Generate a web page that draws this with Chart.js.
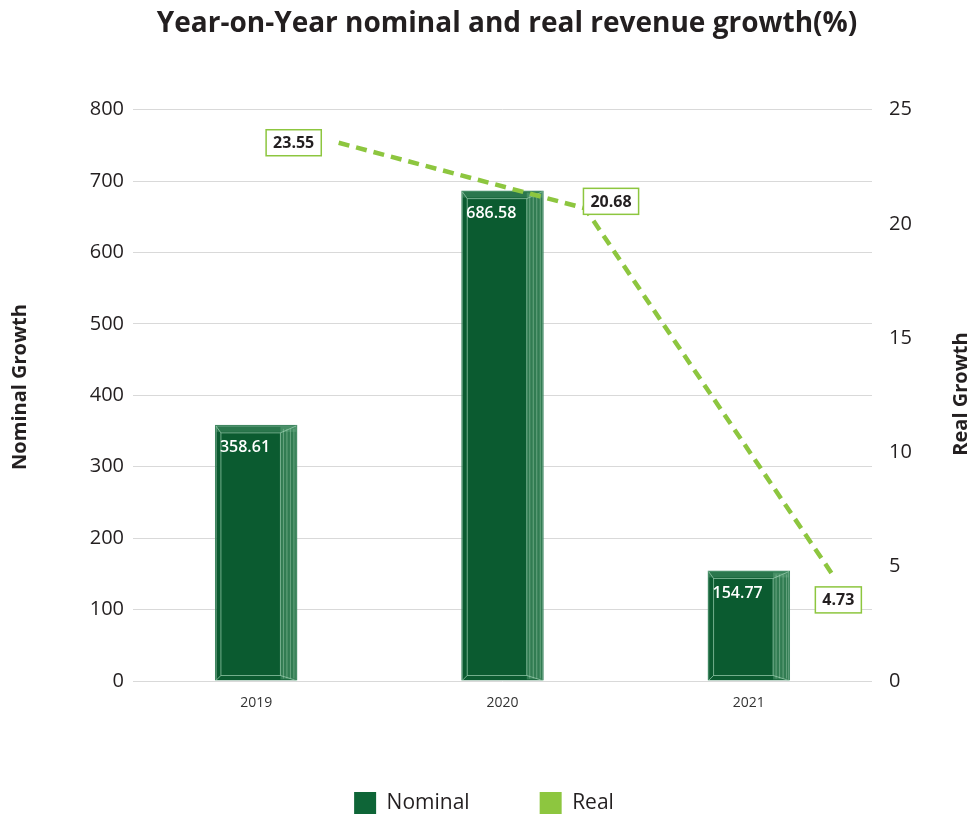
<!DOCTYPE html>
<html>
<head>
<meta charset="utf-8">
<script src="https://cdn.jsdelivr.net/npm/chart.js@4.4.1/dist/chart.umd.min.js"></script>
<style>
  html, body { margin: 0; padding: 0; background: #fff; }
</style>
</head>
<body>
<canvas id="chart" width="972" height="817"></canvas>
<script>
// ====== DATA ======
const years         = ['2019', '2020', '2021'];
const nominalGrowth = [358.61, 686.58, 154.77];
const realGrowth    = [23.55, 20.68, 4.73];

// ====== STYLE ======
const DARK_GREEN  = '#0b5b30';
const LIGHT_GREEN = '#8dc63f';
const TEXT        = '#231f20';
const LINE_SHIFT  = 0.335;                         // line sits right of the bars
const REAL_LABEL_OFFSETS = [[-45, 0], [26, -7], [7, 27]];

Chart.defaults.font.family = '"Open Sans", "Noto Sans", sans-serif';
Chart.defaults.color = TEXT;

// bevelled look on the bars
const barBevel = {
  id: 'barBevel',
  afterDatasetDraw(chart, args) {
    if (args.index !== 0) return;
    const ctx = chart.ctx;
    ctx.save();
    args.meta.data.forEach(bar => {
      const l = bar.x - bar.width / 2, r = bar.x + bar.width / 2;
      const t = bar.y, b = bar.base;
      const il = l + 6, ir = r - 17, it = t + 8, ib = b - 5;
      // right face
      ctx.fillStyle = 'rgba(120,185,145,0.35)';
      ctx.fillRect(ir, t + 2, r - ir - 1, b - t - 3);
      ctx.strokeStyle = 'rgba(170,215,185,0.45)';
      ctx.lineWidth = 1;
      for (let k = 0; k < 4; k++) {
        const xx = ir + 3 + k * 3.5;
        ctx.beginPath(); ctx.moveTo(xx, t + 4); ctx.lineTo(xx, b - 2); ctx.stroke();
      }
      // top face
      ctx.fillStyle = 'rgba(120,185,145,0.3)';
      ctx.fillRect(l + 1, t + 1, r - l - 2, 6);
      // inner frame
      ctx.strokeStyle = 'rgba(160,210,180,0.7)';
      ctx.lineWidth = 1;
      ctx.strokeRect(il, it, ir - il, ib - it);
      ctx.beginPath();
      ctx.moveTo(l + 1, t + 1); ctx.lineTo(il, it);
      ctx.moveTo(r - 1, t + 1); ctx.lineTo(ir, it);
      ctx.moveTo(l + 1, b); ctx.lineTo(il, ib);
      ctx.moveTo(r - 1, b); ctx.lineTo(ir, ib);
      ctx.stroke();
    });
    ctx.restore();
  }
};

// value labels + axis titles (both read bottom-to-top)
const valueLabels = {
  id: 'valueLabels',
  afterDatasetsDraw(chart) {
    const ctx = chart.ctx;
    ctx.save();
    ctx.textBaseline = 'middle';

    // bar labels, white, inside top-left
    ctx.font = '600 16px "Open Sans"';
    ctx.fillStyle = '#ffffff';
    ctx.textAlign = 'left';
    chart.getDatasetMeta(0).data.forEach((bar, i) => {
      ctx.fillText(nominalGrowth[i].toFixed(2), bar.x - bar.width / 2 + 5, bar.y + 23);
    });

    // boxed labels for the line
    ctx.font = 'bold 16px "Open Sans"';
    ctx.textAlign = 'center';
    chart.getDatasetMeta(1).data.forEach((pt, i) => {
      const txt = realGrowth[i].toFixed(2);
      const w = ctx.measureText(txt).width + 14, h = 26;
      const cx = pt.x + REAL_LABEL_OFFSETS[i][0];
      const cy = pt.y + REAL_LABEL_OFFSETS[i][1];
      ctx.fillStyle = '#ffffff';
      ctx.fillRect(cx - w / 2, cy - h / 2, w, h);
      ctx.strokeStyle = LIGHT_GREEN;
      ctx.lineWidth = 1.5;
      ctx.strokeRect(cx - w / 2, cy - h / 2, w, h);
      ctx.fillStyle = TEXT;
      ctx.fillText(txt, cx, cy + 1);
    });

    // axis titles
    ctx.font = 'bold 20px "Open Sans"';
    ctx.fillStyle = TEXT;
    const drawTitle = (txt, x, y) => {
      ctx.save();
      ctx.translate(x, y);
      ctx.rotate(-Math.PI / 2);
      ctx.fillText(txt, 0, 0);
      ctx.restore();
    };
    drawTitle('Nominal Growth', 20, 387);
    drawTitle('Real Growth', 961, 394);
    ctx.restore();
  }
};

// wide gap between legend items without a tall legend;
// nudge title right and legend left like the original
const legendFit = {
  id: 'legendFit',
  beforeInit(chart) {
    const fit = chart.legend.fit;
    chart.legend.fit = function () {
      fit.call(this);
      this.height = 95;
    };
  },
  afterLayout(chart) {
    chart.titleBlock.left += 36;
    chart.legend.left -= 5;
    chart.legend.right -= 5;
  }
};

const chart = new Chart(document.getElementById('chart').getContext('2d'), {
  type: 'bar',
  data: {
    labels: years,
    datasets: [
      {
        label: 'Nominal',
        data: nominalGrowth,
        xAxisID: 'x',
        yAxisID: 'y',
        backgroundColor: DARK_GREEN,
        borderColor: '#3f8660',
        borderWidth: 1.5,
        barPercentage: 0.335,
        categoryPercentage: 1.0,
        grouped: false,
        order: 1
      },
      {
        type: 'line',
        label: 'Real',
        data: realGrowth.map((v, i) => ({ x: i + LINE_SHIFT, y: v })),
        xAxisID: 'x2',
        yAxisID: 'y1',
        borderColor: LIGHT_GREEN,
        backgroundColor: LIGHT_GREEN,
        borderWidth: 4.5,
        borderDash: [11, 7],
        pointRadius: 0,
        fill: false,
        tension: 0,
        order: 0
      }
    ]
  },
  options: {
    responsive: false,
    animation: false,
    layout: { padding: { left: 8, right: 2, top: 0, bottom: 0 } },
    plugins: {
      title: {
        display: true,
        text: 'Year-on-Year nominal and real revenue growth(%)',
        color: TEXT,
        font: { size: 28, weight: 'bold' },
        padding: { top: 7, bottom: 69 }
      },
      legend: {
        display: true,
        position: 'bottom',
        labels: {
          boxWidth: 22,
          boxHeight: 22,
          padding: 70,
          color: TEXT,
          font: { size: 21 },
          sort: (a, b) => a.datasetIndex - b.datasetIndex,
          generateLabels: (ch) => ch.data.datasets.map((ds, i) => ({
            text: ds.label,
            fillStyle: i === 0 ? '#0e6537' : LIGHT_GREEN,
            strokeStyle: i === 0 ? '#0e6537' : LIGHT_GREEN,
            lineWidth: 0,
            datasetIndex: i,
            fontColor: TEXT
          }))
        }
      },
      tooltip: { enabled: false }
    },
    scales: {
      x: {
        grid: { display: false, drawTicks: false },
        border: { display: false },
        ticks: { padding: 14, color: '#333', font: { size: 14 } },
        afterFit: (s) => { s.height = 41; }
      },
      x2: {
        type: 'linear',
        display: false,
        offset: false,
        bounds: 'ticks',
        min: -0.5,
        max: 2.5
      },
      y: {
        position: 'left',
        min: 0,
        max: 800,
        ticks: { stepSize: 100, padding: 9, color: TEXT, font: { size: 20 } },
        grid: { color: '#d9d9d9', lineWidth: 1, drawTicks: false },
        border: { display: false },
        afterFit: (s) => { s.width = 125; }
      },
      y1: {
        position: 'right',
        min: 0,
        max: 25,
        ticks: { stepSize: 5, padding: 17, color: TEXT, font: { size: 20 } },
        grid: { display: false, drawTicks: false },
        border: { display: false },
        afterFit: (s) => { s.width = 98; }
      }
    }
  },
  plugins: [barBevel, valueLabels, legendFit]
});
</script>
</body>
</html>
